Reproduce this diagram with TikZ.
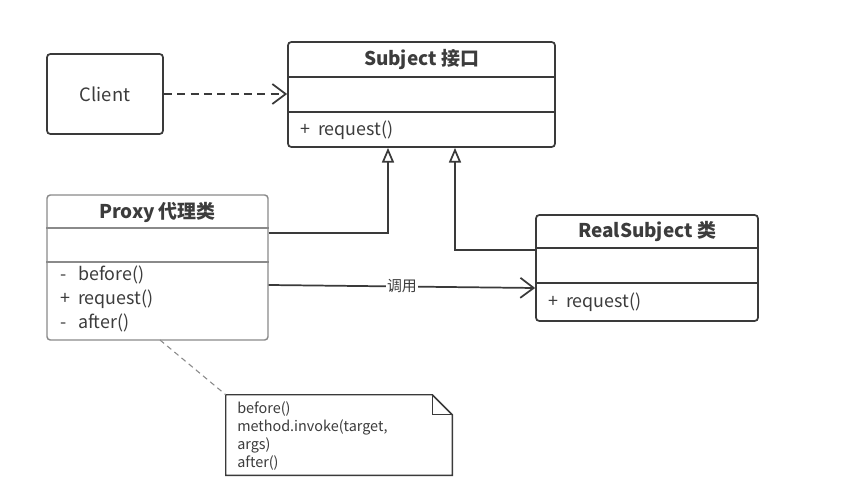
\documentclass[tikz,border=0pt]{standalone}
\usepackage{fontspec}
\setmainfont{Noto Sans CJK SC}
\usetikzlibrary{arrows.meta}
\definecolor{ln}{HTML}{3A3A3A}
\definecolor{lnl}{HTML}{8A8A8A}
\definecolor{tx}{HTML}{3C3C3C}
\newcommand{\vis}[1]{\makebox[1em][l]{#1}}
\begin{document}
\begin{tikzpicture}[x=0.75pt,y=-0.75pt,
  box/.style={draw=ln, line width=1.3pt, rounded corners=2.5pt, inner sep=0pt, fill=white},
  divline/.style={draw=ln, line width=1.1pt},
  lbl/.style={text=tx, font=\fontsize{13.4}{15}\selectfont, inner sep=0pt},
  ttl/.style={text=tx, font=\bfseries\fontsize{14.2}{16}\selectfont, inner sep=0pt},
  conn/.style={draw=ln, line width=1.3pt},
  gen/.style={conn, -{Triangle[open, length=11pt, width=9pt, line width=1.3pt]}},
  barb/.style={-{Straight Barb[length=10pt, width=15pt, line width=1.3pt]}}
]
\useasboundingbox (0,0) rectangle (844,492);

% Client
\node[box, minimum width={116*0.75pt}, minimum height={80*0.75pt}] (client) at (105,94) {};
\node[lbl, font=\fontsize{13.8}{15}\selectfont] (clientt) at (client.center) {Client};

% Subject
\node[box, minimum width={267*0.75pt}, minimum height={105*0.75pt}] (subj) at (421.5,94.5) {};
\draw[divline] (subj.west |- 0,77) -- (subj.east |- 0,77);
\draw[divline] (subj.west |- 0,112) -- (subj.east |- 0,112);
\node[ttl] (subjt) at (421.5,60) {Subject 接口};
\node[lbl, anchor=west] (subjm) at (300,130) {\vis{+}request()};

% Proxy
\node[box, draw=lnl, line width=1.1pt, minimum width={221*0.75pt}, minimum height={145*0.75pt}] (proxy) at (157.5,267.5) {};
\draw[divline, draw=lnl] (proxy.west |- 0,228) -- (proxy.east |- 0,228);
\draw[divline, draw=lnl] (proxy.west |- 0,262) -- (proxy.east |- 0,262);
\node[ttl] (proxyt) at (157.5,212) {Proxy 代理类};
\node[lbl, anchor=west] (pm1) at (60,275) {\vis{-}before()};
\node[lbl, anchor=west] (pm2) at (60,299) {\vis{+}request()};
\node[lbl, anchor=west] (pm3) at (60,323) {\vis{-}after()};

% RealSubject
\node[box, minimum width={222*0.75pt}, minimum height={106*0.75pt}] (real) at (647,268) {};
\draw[divline] (real.west |- 0,248) -- (real.east |- 0,248);
\draw[divline] (real.west |- 0,283) -- (real.east |- 0,283);
\node[ttl] (realt) at (647,231) {RealSubject 类};
\node[lbl, anchor=west] (realm) at (548,302) {\vis{+}request()};

% Note
\node[minimum width={226*0.75pt}, minimum height={80*0.75pt}, inner sep=0pt] (note) at (339,435) {};
\draw[draw=ln, line width=1.1pt, fill=white]
  (note.north west) -- ([xshift={-20*0.75pt}]note.north east)
  -- ([yshift={-20*0.75pt}]note.north east) -- (note.south east)
  -- (note.south west) -- cycle;
\draw[draw=ln, line width=0.9pt]
  ([xshift={-20*0.75pt}]note.north east) -- ([xshift={-20*0.75pt},yshift={-20*0.75pt}]note.north east)
  -- ([yshift={-20*0.75pt}]note.north east);
\node[lbl, anchor=north west, align=left, font=\fontsize{10.8}{13.5}\selectfont] (notet) at (237,401)
  {before()\\method.invoke(target,\\args)\\after()};

% Connectors
\draw[conn, dashed, dash pattern=on 6pt off 4pt, barb] (client.east) -- (subj.west |- client.east);
\draw[gen] (proxy.east |- 0,233) -| (subj.south -| 388,0);
\draw[gen] (real.west |- 0,250) -| (subj.south -| 455,0);
\draw[conn, barb] (proxy.east |- 0,285) -- (real.west |- 0,288)
  node[midway, fill=white, inner sep=1pt, text=tx, font=\fontsize{11.2}{12}\selectfont] (calllbl) {调用};
\draw[draw=lnl, line width=0.8pt, dashed, dash pattern=on 4pt off 3pt] (160,340) -- (note.north west);
\end{tikzpicture}
\end{document}
